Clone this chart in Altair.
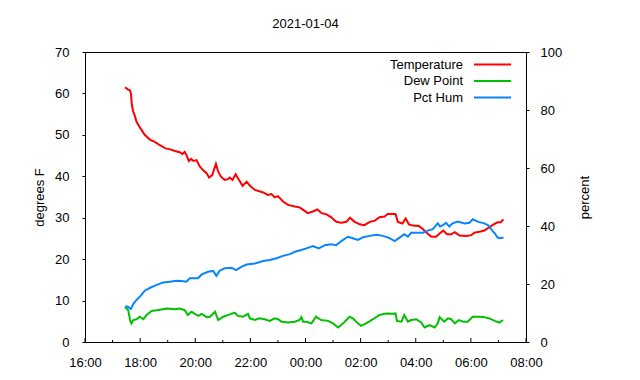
import altair as alt
import pandas as pd

TITLE = "2021-01-04"
DAY0, DAY1 = "2021-01-04", "2021-01-05"
FONT = "Liberation Sans"

# ---- data ----
temp_times = ["17:27","17:33","17:38","17:40","17:42","17:45","17:49","17:52","17:58","18:03",
              "18:10","18:22","18:32","18:43","18:54","19:05","19:16","19:26","19:32","19:37",
              "19:41","19:46","19:51","19:56","20:03","20:09","20:17","20:25","20:30","20:37",
              "20:45","20:50","20:56","21:04","21:11","21:15","21:21","21:28","21:33","21:43",
              "21:52","21:59","22:10","22:28","22:38","22:46","22:53","23:00","23:11","23:22",
              "23:37","23:47","23:55","00:05","00:16","00:26","00:35","00:46","00:56","01:07",
              "01:18","01:29","01:37","01:47","01:58","02:08","02:20","02:31","02:41","02:52",
              "02:59","03:07","03:16","03:21","03:31","03:38","03:45","03:54","04:07","04:16",
              "04:23","04:34","04:44","04:52","05:00","05:08","05:17","05:25","05:35","05:50",
              "06:01","06:08","06:19","06:29","06:39","06:47","06:58","07:05","07:11"]
temp_vals = [61.5,61.0,60.7,60.0,57.2,55.6,54.4,53.2,52.0,51.2,
             50.0,48.8,48.3,47.5,46.8,46.5,46.1,45.8,45.4,45.9,
             45.1,43.7,44.2,43.7,43.9,42.5,41.5,40.7,39.7,40.3,
             43.0,41.1,39.9,39.1,39.3,39.7,39.1,40.5,39.5,37.7,
             38.7,37.7,36.7,36.1,35.5,35.7,34.9,35.2,33.9,33.1,
             32.7,32.5,31.9,31.1,31.5,32.0,31.1,30.8,30.1,29.0,
             28.8,29.0,30.0,29.0,28.4,28.2,29.0,29.3,30.1,30.3,
             30.9,30.9,30.9,29.0,28.6,29.8,28.4,28.1,28.0,27.2,
             26.4,25.4,25.4,26.2,26.9,26.0,26.0,26.5,25.7,25.6,
             25.8,26.4,26.6,26.9,27.6,28.2,28.9,28.9,29.6]

dew_times = ["17:27","17:34","17:38","17:41","17:45","17:52","17:59","18:07","18:14","18:25",
             "18:40","18:58","19:16","19:26","19:37","19:44","19:52","19:59","20:07","20:14",
             "20:25","20:32","20:43","20:50","21:01","21:11","21:26","21:33","21:44","21:55",
             "21:59","22:10","22:20","22:31","22:42","22:53","23:00","23:08","23:22","23:37",
             "23:47","23:51","23:55","00:02","00:13","00:23","00:34","00:49","01:00","01:11",
             "01:22","01:29","01:36","01:43","01:54","02:01","02:12","02:27","02:40","02:52",
             "02:59","03:10","03:16","03:19","03:29","03:35","03:43","03:50","04:01","04:12",
             "04:19","04:30","04:41","04:48","04:52","05:02","05:10","05:17","05:25","05:34",
             "05:43","05:53","06:04","06:19","06:29","06:40","06:52","07:02","07:10"]
dew_vals = [8.5,7.7,5.3,4.5,5.3,5.5,6.1,5.5,6.5,7.5,
            7.7,8.1,7.9,8.1,7.7,6.5,7.3,6.8,6.3,6.8,
            6.0,6.1,7.3,5.3,6.1,6.5,7.1,6.3,6.1,6.8,
            5.7,5.3,5.7,5.5,5.1,5.7,5.5,4.9,4.7,4.9,
            5.3,6.0,4.9,4.9,4.5,6.1,5.3,5.1,4.5,3.5,
            4.5,5.3,6.1,5.7,4.5,3.9,4.5,5.5,6.5,6.8,
            6.9,6.8,6.9,5.1,4.9,6.5,4.9,5.3,5.5,4.7,
            3.5,4.1,3.5,4.5,6.0,4.9,5.7,5.5,4.5,5.3,
            4.9,4.9,6.1,6.1,6.0,5.7,5.1,4.7,5.3]

hum_times = ["17:27","17:33","17:40","17:45","17:52","18:01","18:10","18:22","18:36","18:50",
             "19:05","19:19","19:30","19:41","19:48","20:06","20:14","20:28","20:39","20:46",
             "20:53","21:04","21:19","21:29","21:41","21:52","22:10","22:28","22:42","22:57",
             "23:11","23:26","23:37","23:51","00:02","00:16","00:29","00:42","00:56","01:07",
             "01:18","01:32","01:43","01:54","02:05","02:20","02:34","02:49","03:03","03:14",
             "03:25","03:35","03:43","03:50","04:05","04:16","04:26","04:37","04:48","04:53",
             "04:59","05:06","05:13","05:20","05:32","05:46","05:57","06:04","06:15","06:29",
             "06:37","06:44","06:52","06:58","07:05","07:11"]
hum_vals = [12.2,12.2,11.4,13.1,14.5,15.9,17.7,18.7,19.7,20.5,
            20.8,21.1,21.0,20.8,22.0,22.0,23.3,24.2,24.5,22.8,
            24.6,25.4,25.6,24.8,26.0,26.7,27.1,27.9,28.3,28.9,
            29.7,30.3,31.1,31.7,32.3,33.1,32.3,33.4,33.7,33.4,
            34.8,36.3,35.8,35.2,36.1,36.6,37.0,36.6,35.8,34.8,
            36.0,37.2,36.3,37.7,37.7,37.7,38.4,38.9,40.9,39.8,
            40.3,41.1,39.8,40.9,41.5,40.9,41.1,42.3,41.5,40.9,
            40.3,38.9,37.5,36.0,35.8,36.0]

x_tick_labels = ["16:00","18:00","20:00","22:00","00:00","02:00","04:00","06:00","08:00"]
x_minor_labels = ["17:00","19:00","21:00","23:00","01:00","03:00","05:00","07:00"]
left_ticks = [0, 10, 20, 30, 40, 50, 60, 70]
right_ticks = [0, 20, 40, 60, 80, 100]

series_names = ["Temperature", "Dew Point", "Pct Hum"]
series_colors = ["#ff0000", "#00c000", "#0a84ff"]


def stamp(hhmm):
    day = DAY0 if int(hhmm[:2]) >= 12 else DAY1
    return pd.Timestamp(f"{day} {hhmm}")


def dt(hhmm):
    day = DAY0 if int(hhmm[:2]) >= 12 else DAY1
    y, m, d = (int(v) for v in day.split("-"))
    return alt.DateTime(year=y, month=m, date=d, hours=int(hhmm[:2]), minutes=int(hhmm[3:]))


temp_df = pd.DataFrame({"t": [stamp(s) for s in temp_times], "v": temp_vals})
dew_df = pd.DataFrame({"t": [stamp(s) for s in dew_times], "v": dew_vals})
hum_df = pd.DataFrame({"t": [stamp(s) for s in hum_times], "v": hum_vals})
major_df = pd.DataFrame({"t": [stamp(s) for s in x_tick_labels]})
minor_df = pd.DataFrame({"t": [stamp(s) for s in x_minor_labels]})

W, H = 441, 290

xscale = alt.Scale(domain=[dt(x_tick_labels[0]), dt(x_tick_labels[-1])], nice=False)
xaxis = alt.Axis(format="%H:%M", values=[dt(s) for s in x_tick_labels], ticks=False,
                 labelPadding=14, title=None, labelFlush=False)

left_scale = alt.Scale(domain=[0, 70], nice=False, zero=True)
right_scale = alt.Scale(domain=[0, 100], nice=False, zero=True)

temp_line = alt.Chart(temp_df).mark_line(color=series_colors[0], strokeWidth=2).encode(
    x=alt.X("t:T", scale=xscale, axis=xaxis),
    y=alt.Y("v:Q", scale=left_scale,
            axis=alt.Axis(values=left_ticks, title="degrees F", tickSize=3, labelPadding=13,
                          titleX=-46, titleY=H / 2, titleBaseline="middle", titleAngle=270,
                          titleAlign="center")),
)
dew_line = alt.Chart(dew_df).mark_line(color=series_colors[1], strokeWidth=2).encode(
    x=alt.X("t:T", scale=xscale, axis=xaxis),
    y=alt.Y("v:Q", scale=left_scale, axis=None),
)
hum_line = alt.Chart(hum_df).mark_line(color=series_colors[2], strokeWidth=2).encode(
    x=alt.X("t:T", scale=xscale, axis=xaxis),
    y=alt.Y("v:Q", scale=right_scale,
            axis=alt.Axis(orient="right", values=right_ticks, title="percent", tickSize=3,
                          labelPadding=11, titleX=58, titleY=H / 2, titleBaseline="middle",
                          titleAngle=270, titleAlign="center")),
)

major_ticks = alt.Chart(major_df).mark_rule(color="black", strokeWidth=1).encode(
    x=alt.X("t:T", scale=xscale, axis=xaxis), y=alt.value(H), y2=alt.value(H - 4))
minor_ticks = alt.Chart(minor_df).mark_rule(color="black", strokeWidth=1).encode(
    x=alt.X("t:T", scale=xscale, axis=xaxis), y=alt.value(H), y2=alt.value(H - 2))

legend_layers = []
row_y = [12.5, 29, 45.5]
for name, color, ry in zip(series_names, series_colors, row_y):
    ldf = pd.DataFrame({"label": [name]})
    legend_layers.append(
        alt.Chart(ldf).mark_text(align="right", baseline="middle", font=FONT, fontSize=13,
                                 color="black").encode(
            text="label:N", x=alt.value(378), y=alt.value(ry)))
    legend_layers.append(
        alt.Chart(ldf).mark_rule(color=color, strokeWidth=2).encode(
            x=alt.value(389), x2=alt.value(426), y=alt.value(ry)))

chart = alt.layer(
    temp_line, dew_line, hum_line, major_ticks, minor_ticks, *legend_layers
).resolve_scale(y="independent").properties(
    width=W, height=H,
    title=alt.TitleParams(TITLE, font=FONT, fontSize=13, fontWeight="normal", color="black",
                          offset=15, anchor="middle"),
    autosize=alt.AutoSizeParams(type="none"),
    padding={"left": 77, "top": 44, "right": 100, "bottom": 30},
).configure_axis(
    labelFont=FONT, labelFontSize=13, labelColor="black",
    titleFont=FONT, titleFontSize=13, titleFontWeight="normal", titleColor="black",
    domainColor="black", tickColor="black", grid=False,
).configure_view(stroke="black", strokeWidth=1)

chart.save("out.html", embed_options={"renderer": "svg", "actions": False})
